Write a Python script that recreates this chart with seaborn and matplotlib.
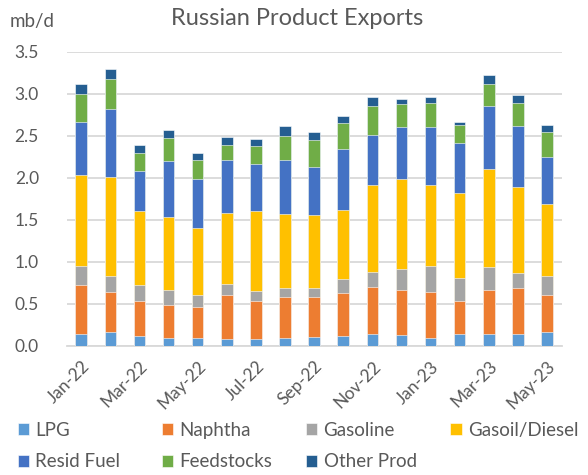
"""Russian product exports, stacked by product (mb/d)."""
import matplotlib
matplotlib.use("Agg")
import matplotlib.pyplot as plt
import seaborn as sns
import numpy as np
import pandas as pd

months = ['Jan-22', 'Feb-22', 'Mar-22', 'Apr-22', 'May-22', 'Jun-22', 'Jul-22',
          'Aug-22', 'Sep-22', 'Oct-22', 'Nov-22', 'Dec-22', 'Jan-23', 'Feb-23',
          'Mar-23', 'Apr-23', 'May-23']

lpg = [0.14, 0.16, 0.12, 0.09, 0.09, 0.08, 0.08, 0.09, 0.11, 0.12, 0.14, 0.13, 0.09, 0.14, 0.14, 0.14, 0.16]
naphtha = [0.58, 0.48, 0.41, 0.39, 0.37, 0.52, 0.45, 0.49, 0.47, 0.51, 0.56, 0.54, 0.55, 0.39, 0.53, 0.55, 0.45]
gasoline = [0.23, 0.19, 0.19, 0.18, 0.15, 0.13, 0.12, 0.11, 0.11, 0.16, 0.18, 0.25, 0.31, 0.28, 0.27, 0.18, 0.22]
gasoil = [1.08, 1.18, 0.89, 0.87, 0.79, 0.85, 0.96, 0.88, 0.87, 0.83, 1.03, 1.07, 0.97, 1.01, 1.16, 1.02, 0.86]
resid = [0.64, 0.81, 0.47, 0.67, 0.59, 0.63, 0.56, 0.64, 0.57, 0.72, 0.60, 0.62, 0.69, 0.59, 0.75, 0.73, 0.56]
feedstocks = [0.33, 0.36, 0.22, 0.27, 0.22, 0.18, 0.21, 0.29, 0.32, 0.31, 0.34, 0.27, 0.28, 0.22, 0.27, 0.27, 0.29]
other = [0.12, 0.11, 0.09, 0.10, 0.09, 0.10, 0.08, 0.12, 0.09, 0.09, 0.11, 0.06, 0.07, 0.04, 0.10, 0.10, 0.09]

products = ['LPG', 'Naphtha', 'Gasoline', 'Gasoil/Diesel', 'Resid Fuel', 'Feedstocks', 'Other Prod']
colors = ['#5B9BD5', '#ED7D31', '#A5A5A5', '#FFC000', '#4472C4', '#70AD47', '#255E91']

series = [lpg, naphtha, gasoline, gasoil, resid, feedstocks, other]

sns.set_style("white")
plt.rcParams['font.family'] = ['Lato', 'DejaVu Sans']
text_color = '#595959'

fig = plt.figure(figsize=(5.88, 4.75), dpi=100)
ax = fig.add_axes([0.1134, 0.272, 0.8416, 0.619])

# stacked bars: draw cumulative totals from the top layer down
df = pd.DataFrame(dict(zip(products, series)), index=months)
cum = df.cumsum(axis=1)
for name, col in reversed(list(zip(products, colors))):
    d = pd.DataFrame({'month': months, 'value': cum[name].values})
    sns.barplot(data=d, x='month', y='value', color=col, width=0.4,
                edgecolor='white', linewidth=0.4, saturation=1, ax=ax,
                label=name, zorder=3)

handles, labels = ax.get_legend_handles_labels()
if ax.get_legend() is not None:
    ax.get_legend().remove()

ax.set_xlim(-0.5, 16.5)
ax.set_ylim(0, 3.5)
ax.set_yticks(np.arange(0, 3.51, 0.5))
ax.set_yticklabels([f'{v:.1f}' for v in np.arange(0, 3.51, 0.5)])
ax.yaxis.grid(True, color='#D9D9D9', linewidth=1.3, zorder=0)
ax.set_axisbelow(True)

ax.set_xticks(range(0, 17, 2))
ax.set_xticklabels(months[::2], rotation=45, ha='right', rotation_mode='anchor')
ax.set_xticks(np.arange(-0.5, 16.6, 2), minor=True)
ax.tick_params(axis='x', which='major', length=0, pad=9, labelsize=12.5, labelcolor=text_color)
ax.tick_params(axis='x', which='minor', length=7, width=1.3, color='#D9D9D9', direction='out')
ax.tick_params(axis='y', length=0, pad=20, labelsize=12.5, labelcolor=text_color)
ax.set_xlabel('')
ax.set_ylabel('')

for s in ['top', 'right', 'left']:
    ax.spines[s].set_visible(False)
ax.spines['bottom'].set_color('#D9D9D9')
ax.spines['bottom'].set_linewidth(1.3)

fig.text(0.505, 0.962, 'Russian Product Exports', ha='center', va='center',
         fontsize=17, color=text_color)
fig.text(0.017, 0.955, 'mb/d', ha='left', va='center', fontsize=13.5, color=text_color)

# legend: four evenly spaced columns, two rows
leg_cols = [['LPG', 'Resid Fuel'], ['Naphtha', 'Feedstocks'],
            ['Gasoline', 'Other Prod'], ['Gasoil/Diesel']]
col_x = [0.030, 0.275, 0.520, 0.766]
for names, x0 in zip(leg_cols, col_x):
    idx = [labels.index(n) for n in names]
    fig.legend([handles[i] for i in idx], [labels[i] for i in idx],
               loc='upper left', bbox_to_anchor=(x0, 0.112), ncol=1, frameon=False,
               fontsize=13.5, handlelength=0.6, handleheight=0.6, handletextpad=0.35,
               labelspacing=0.78, borderpad=0, borderaxespad=0, labelcolor=text_color)

fig.savefig('out.png', dpi=100)
